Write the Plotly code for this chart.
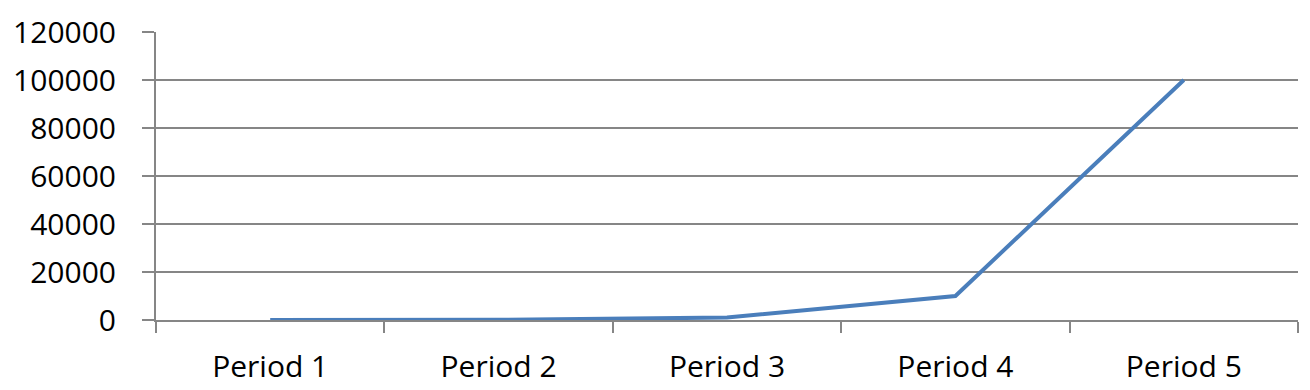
import plotly.graph_objects as go

categories = ["Period 1", "Period 2", "Period 3", "Period 4", "Period 5"]
values = [10, 100, 1000, 10000, 100000]
y_ticks = [0, 20000, 40000, 60000, 80000, 100000, 120000]

FONT = "Open Sans"
GRAY = "#868686"

fig = go.Figure(
    go.Scatter(
        x=categories,
        y=values,
        mode="lines",
        line=dict(color="#4A7EBB", width=4),
        hoverinfo="skip",
    )
)

fig.update_layout(
    width=1310,
    height=390,
    margin=dict(l=156, r=12, t=32, b=70, autoexpand=False),
    paper_bgcolor="white",
    plot_bgcolor="white",
    showlegend=False,
    font=dict(family=FONT, size=30, color="#000000"),
)

fig.update_xaxes(
    type="category",
    range=[-0.5, 4.5],
    tickson="boundaries",
    ticks="outside",
    ticklen=11,
    tickwidth=2,
    tickcolor=GRAY,
    showline=True,
    linecolor=GRAY,
    linewidth=2,
    showgrid=False,
    automargin=False,
    ticklabelstandoff=19,
    tickfont=dict(family=FONT, size=30, color="#000000"),
)

fig.update_yaxes(
    range=[0, 120000],
    tickvals=y_ticks,
    ticktext=[str(v) for v in y_ticks],
    ticks="outside",
    ticklen=12,
    tickwidth=2,
    tickcolor=GRAY,
    showline=True,
    linecolor=GRAY,
    linewidth=2,
    showgrid=True,
    gridcolor=GRAY,
    gridwidth=2,
    zeroline=False,
    automargin=False,
    ticklabelstandoff=20,
    tickfont=dict(family=FONT, size=30, color="#000000"),
)

fig.write_html("out.html")
